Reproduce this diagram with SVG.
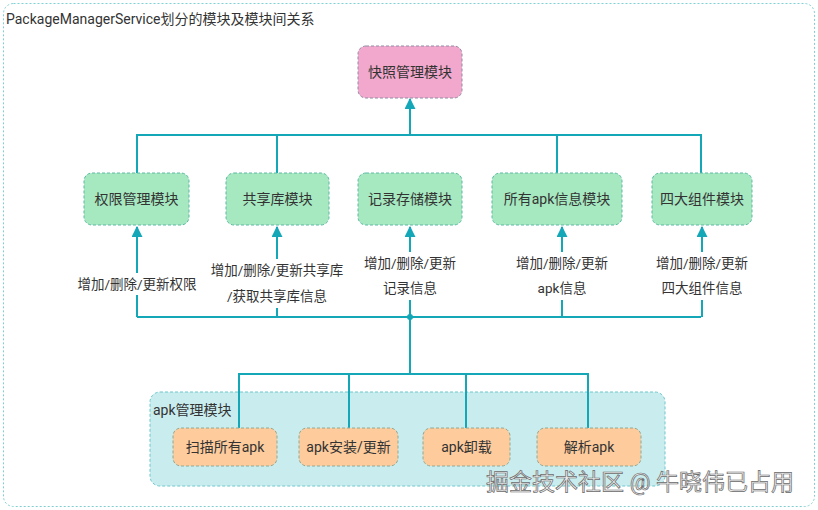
<svg xmlns="http://www.w3.org/2000/svg" width="818" height="510" viewBox="0 0 818 510">
<style>
text{font-family:Roboto,"Noto Sans CJK SC",sans-serif;fill:#333;}
.title{font-size:14px;}
.lbl{font-size:14px;text-anchor:middle;dominant-baseline:central;}
.elbl{font-size:13.5px;text-anchor:middle;dominant-baseline:central;}
.green{fill:#a6e8c0;stroke:#5cb8a4;stroke-width:1;stroke-dasharray:3 2;}
.pink{fill:#f2a8cc;stroke:#8f8aa6;stroke-width:1;stroke-dasharray:3 2;}
.orange{fill:#fdcb9c;stroke:#8ea894;stroke-width:1;stroke-dasharray:3 2;}
.conn{fill:none;stroke:#14a7b8;stroke-width:2;}
.bg{fill:#fff;}
</style>
<defs>
<marker id="arr" viewBox="0 0 10 10" refX="9" refY="5" markerWidth="5.5" markerHeight="5.5" orient="auto">
<path d="M0,0 L10,5 L0,10 z" fill="#14a7b8"/>
</marker>
</defs>
<rect x="3.5" y="3.5" width="811" height="503" rx="10" fill="#fff" stroke="#7fd0d4" stroke-width="1" stroke-dasharray="2 2"/>
<text class="title" x="6" y="24">PackageManagerService划分的模块及模块间关系</text>

<g id="apk-container">
<rect x="150" y="392" width="515" height="94" rx="10" fill="#c9edef" stroke="#6cc7cc" stroke-width="1" stroke-dasharray="3 2"/>
<text x="153" y="415" style="font-size:14px">apk管理模块</text>
</g>

<g id="connectors">
<path class="conn" d="M137,173 V135 H701 V173 M277,135 V173 M557,135 V173" />
<path class="conn" marker-end="url(#arr)" d="M410,135 V99"/>
<path class="conn" d="M137,317 H701 M410,317 V374 M239,428 V374 H588 V428 M349,374 V428 M466,374 V428"/>
<path class="conn" marker-end="url(#arr)" d="M137,317 V227"/>
<path class="conn" marker-end="url(#arr)" d="M277,317 V227"/>
<path class="conn" marker-end="url(#arr)" d="M410,317 V227"/>
<path class="conn" marker-end="url(#arr)" d="M562,317 V227"/>
<path class="conn" marker-end="url(#arr)" d="M702,317 V227"/>
<circle cx="410" cy="317" r="3" fill="#14a7b8"/>
<rect class="bg" x="74" y="273" width="128" height="22"/>
<text class="elbl" x="137" y="284">增加/删除/更新权限</text>
<rect class="bg" x="208" y="259" width="138" height="49"/>
<text class="elbl" x="277" y="270">增加/删除/更新共享库</text>
<text class="elbl" x="277" y="296">/获取共享库信息</text>
<rect class="bg" x="361" y="252" width="98" height="48"/>
<text class="elbl" x="410" y="263">增加/删除/更新</text>
<text class="elbl" x="410" y="288">记录信息</text>
<rect class="bg" x="513" y="252" width="98" height="48"/>
<text class="elbl" x="562" y="263">增加/删除/更新</text>
<text class="elbl" x="562" y="288">apk信息</text>
<rect class="bg" x="653" y="252" width="98" height="48"/>
<text class="elbl" x="702" y="263">增加/删除/更新</text>
<text class="elbl" x="702" y="288">四大组件信息</text>
</g>

<g id="snapshot">
<rect class="pink" x="358" y="46" width="104" height="52" rx="8"/>
<text class="lbl" x="410" y="72">快照管理模块</text>
</g>
<g id="permission">
<rect class="green" x="84" y="173" width="105" height="52" rx="8"/>
<text class="lbl" x="136.5" y="199">权限管理模块</text>
</g>
<g id="sharedlib">
<rect class="green" x="226" y="173" width="103" height="52" rx="8"/>
<text class="lbl" x="277.5" y="199">共享库模块</text>
</g>
<g id="record">
<rect class="green" x="358" y="173" width="104" height="52" rx="8"/>
<text class="lbl" x="410" y="199">记录存储模块</text>
</g>
<g id="apkinfo">
<rect class="green" x="492" y="173" width="130" height="52" rx="8"/>
<text class="lbl" x="557" y="199">所有apk信息模块</text>
</g>
<g id="components">
<rect class="green" x="652" y="173" width="100" height="52" rx="8"/>
<text class="lbl" x="702" y="199">四大组件模块</text>
</g>

<g id="scan">
<rect class="orange" x="173" y="428" width="104" height="38" rx="8"/>
<text class="lbl" x="225" y="447">扫描所有apk</text>
</g>
<g id="install">
<rect class="orange" x="299" y="428" width="99" height="38" rx="8"/>
<text class="lbl" x="348.5" y="447">apk安装/更新</text>
</g>
<g id="uninstall">
<rect class="orange" x="423" y="428" width="87" height="38" rx="8"/>
<text class="lbl" x="466.5" y="447">apk卸载</text>
</g>
<g id="parse">
<rect class="orange" x="537" y="428" width="104" height="38" rx="8"/>
<text class="lbl" x="589" y="447">解析apk</text>
</g>

<text x="486" y="490" style="font-size:23px;fill:#ececec;stroke:#6a6a6a;stroke-width:0.7;">掘金技术社区 @ 牛晓伟已占用</text>
</svg>
